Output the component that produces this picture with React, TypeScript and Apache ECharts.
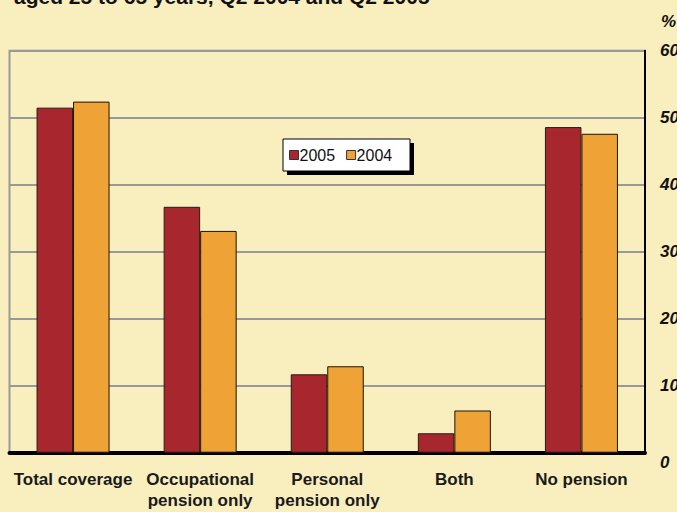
import React, { useEffect, useRef } from "react";
import * as echarts from "echarts";

const categories = ["Total coverage", "Occupational\npension only", "Personal\npension only", "Both", "No pension"];
const series2005 = [51.5, 36.7, 11.7, 2.9, 48.6];
const series2004 = [52.4, 33.1, 12.9, 6.3, 47.6];
const yTicks = [0, 10, 20, 30, 40, 50, 60];
const titleText = "aged 25 to 65 years, Q2 2004 and Q2 2005";

export default function App() {
  const ref = useRef<HTMLDivElement>(null);
  useEffect(() => {
    if (!ref.current) return;
    const chart = echarts.init(ref.current, null, { renderer: "svg" });
    chart.setOption({
      animation: false,
      backgroundColor: "#F8EEBE",
      textStyle: { fontFamily: "Liberation Sans, Arial, sans-serif" },
      graphic: [
        {
          type: "text",
          left: 14,
          top: -14,
          z: 1,
          style: {
            text: titleText,
            font: "bold 21px 'Liberation Sans', Arial, sans-serif",
            fill: "#111",
          },
        },
        {
          type: "text",
          left: 661,
          top: 13,
          z: 1,
          style: {
            text: "%",
            font: "italic bold 17px 'Liberation Sans', Arial, sans-serif",
            fill: "#111",
          },
        },
        {
          type: "rect",
          z: 1,
          shape: { x: 287, y: 143, width: 127, height: 32 },
          style: { fill: "#000" },
        },
        {
          type: "rect",
          z: 2,
          shape: { x: 283, y: 139, width: 127, height: 32 },
          style: { fill: "#fff", stroke: "#000", lineWidth: 1 },
        },
      ],
      legend: {
        left: 289,
        top: 147,
        padding: 0,
        z: 10,
        itemWidth: 9,
        itemHeight: 9,
        itemGap: 11,
        icon: "rect",
        itemStyle: { borderColor: "#333", borderWidth: 1 },
        textStyle: { fontSize: 16, color: "#111", padding: [0, 0, 0, -4] },
        data: ["2005", "2004"],
      },
      grid: {
        left: 9.5,
        right: 32,
        top: 50.7,
        bottom: 59.3,
        show: true,
        borderColor: "#999",
        borderWidth: 2,
        containLabel: false,
        outerBoundsMode: "none",
      },
      xAxis: {
        type: "category",
        data: categories,
        axisLine: { show: true, lineStyle: { color: "#000", width: 4 } },
        axisTick: { show: false },
        axisLabel: {
          interval: 0,
          margin: 16,
          fontSize: 17,
          fontWeight: "bold",
          color: "#1a1a1a",
          lineHeight: 21,
        },
      },
      yAxis: {
        type: "value",
        position: "right",
        min: 0,
        max: 60,
        interval: 10,
        axisLine: { show: true, lineStyle: { color: "#000", width: 2 } },
        axisTick: { show: false },
        splitLine: { show: true, lineStyle: { color: "#999", width: 2 } },
        axisLabel: {
          margin: 15,
          fontSize: 17,
          fontWeight: "bold",
          fontStyle: "italic",
          color: "#111",
          formatter: (v: number) =>
            v === 0 ? "{z|0}" : yTicks.includes(v) ? String(v) : "",
          rich: {
            z: {
              fontSize: 17,
              fontWeight: "bold",
              fontStyle: "italic",
              color: "#111",
              padding: [20, 0, 0, 0],
            },
          },
        },
      },
      series: [
        {
          name: "2005",
          type: "bar",
          data: series2005,
          barWidth: 36.5,
          barGap: "0%",
          itemStyle: { color: "#A8272F", borderColor: "#2a1a10", borderWidth: 1 },
        },
        {
          name: "2004",
          type: "bar",
          data: series2004,
          barWidth: 36.5,
          barGap: "0%",
          itemStyle: { color: "#EFA336", borderColor: "#1a1408", borderWidth: 1 },
        },
      ],
    });
    return () => chart.dispose();
  }, []);
  return <div ref={ref} style={{ width: 677, height: 512, position: "absolute", left: 0, top: 0 }} />;
}
